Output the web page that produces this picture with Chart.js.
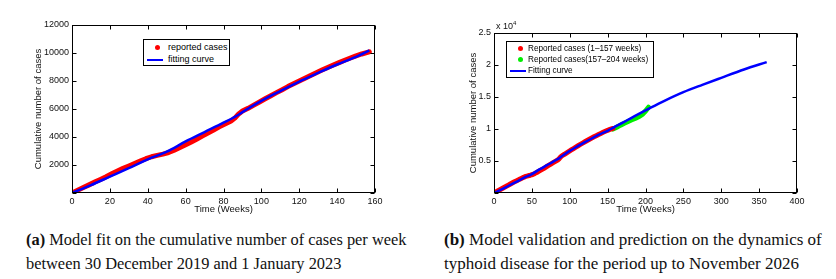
<!DOCTYPE html>
<html><head><meta charset="utf-8">
<script src="https://cdn.jsdelivr.net/npm/chart.js@4"></script>
<style>
body{margin:0;background:#fff;width:836px;height:279px;position:relative;overflow:hidden;font-family:"Liberation Sans",Arial,sans-serif;}
canvas{position:absolute;top:0;}
.leg{position:absolute;border:1px solid #000;background:#fff;font-size:9px;color:#000;box-sizing:border-box;}
.row{position:absolute;left:0;height:11px;line-height:11px;white-space:nowrap;}
.dot{position:absolute;width:5px;height:5px;border-radius:50%;top:3px;}
.ln{position:absolute;height:2px;top:4.5px;background:#0000ff;}
.cap{position:absolute;font-family:"Liberation Serif","Times New Roman",serif;font-size:16.4px;line-height:24px;color:#111;white-space:nowrap;}
.mult{position:absolute;left:496px;top:20px;font-size:9px;color:#111;}
.mult sup{font-size:6px;vertical-align:4px;}
</style></head><body>
<canvas id="c1" width="420" height="215" style="left:0"></canvas>
<canvas id="c2" width="416" height="215" style="left:420px"></canvas>

<div class="leg" style="left:143px;top:39px;width:87px;height:27px;">
  <div class="row" style="top:2px;"><span class="dot" style="left:11px;background:#ff0000"></span><span style="position:absolute;left:24px">reported cases</span></div>
  <div class="row" style="top:14px;"><span class="ln" style="left:3px;width:16px"></span><span style="position:absolute;left:24px">fitting curve</span></div>
</div>
<div class="leg" style="left:506px;top:41px;width:148px;height:37px;">
  <div class="row" style="top:1px;"><span class="dot" style="left:11px;background:#ff0000"></span><span style="position:absolute;left:21px;font-size:8.2px">Reported cases (1–157 weeks)</span></div>
  <div class="row" style="top:12px;"><span class="dot" style="left:11px;background:#00ee00"></span><span style="position:absolute;left:21px;font-size:8.2px">Reported cases(157–204 weeks)</span></div>
  <div class="row" style="top:23px;"><span class="ln" style="left:3px;width:16px"></span><span style="position:absolute;left:21px;font-size:8.2px">Fitting curve</span></div>
</div>
<div class="mult">x 10<sup>4</sup></div>

<div class="cap" style="left:26px;top:228px;"><b>(a)</b> Model fit on the cumulative number of cases per week<br>between 30 December 2019 and 1 January 2023</div>
<div class="cap" style="left:444px;top:228px;font-size:17px;"><b>(b)</b> Model validation and prediction on the dynamics of<br>typhoid disease for the period up to November 2026</div>

<script>
// ---- data ----
const reportedWeeks = [0,3,6,9,12,15,18,21,24,27,30,33,36,39,42,45,48,51,54,57,60,63,66,69,72,75,78,81,84,86,88,90,93,96,99,102,105,108,111,114,117,120,123,126,129,132,135,138,141,144,147,150,153,157];
const reportedCases = [0,190,390,580,780,970,1160,1370,1570,1760,1930,2100,2280,2450,2590,2690,2780,2890,3060,3250,3450,3650,3860,4080,4300,4520,4740,4950,5150,5350,5650,5850,6050,6280,6500,6730,6950,7170,7380,7600,7800,8000,8200,8400,8590,8780,8960,9140,9310,9480,9640,9800,9930,10080];
const fitWeeksA = [0,10,20,30,40,50,60,70,80,87,90,100,110,120,130,140,150,157];
const fitCasesA = [0,560,1170,1780,2400,2950,3680,4350,5020,5520,5780,6580,7280,7960,8580,9180,9720,10180];
const fitWeeksB = [0,10,20,30,40,50,60,70,80,87,90,100,110,120,130,140,150,157,170,185,204,225,250,275,300,330,360];
const fitCasesB = [0,560,1170,1780,2400,2950,3680,4350,5020,5520,5780,6580,7280,7960,8580,9180,9720,10180,11000,11980,13150,14400,15750,16900,18000,19300,20450];
const validWeeks = [157,162,167,172,177,182,187,192,196,200,204];
const validCases = [9980,10280,10600,10900,11180,11450,11700,12000,12300,12800,13400];
const xTicksA = [0,20,40,60,80,100,120,140,160];
const yTicksA = [2000,4000,6000,8000,10000,12000];
const xTicksB = [0,50,100,150,200,250,300,350,400];
const yTickLabelsB = ['0.5','1','1.5','2','2.5'];

const pts = (xs, ys) => xs.map((x,i)=>({x, y: ys[i]}));

const boxPlugin = {
  id:'box',
  afterDatasetsDraw(chart){
    const {ctx, chartArea:a, scales} = chart;
    ctx.save();
    ctx.strokeStyle='#000'; ctx.lineWidth=1;
    const L=Math.round(a.left)+0.5, R=Math.round(a.right)-0.5, T=Math.round(a.top)+0.5, B=Math.round(a.bottom)-0.5;
    ctx.strokeRect(L,T,R-L,B-T);
    const tl=4;
    ctx.beginPath();
    scales.x.ticks.forEach(t=>{
      const px=Math.round(scales.x.getPixelForValue(t.value))+0.5;
      ctx.moveTo(px,B); ctx.lineTo(px,B-tl);
      ctx.moveTo(px,T); ctx.lineTo(px,T+tl);
    });
    scales.y.ticks.forEach(t=>{
      const py=Math.round(scales.y.getPixelForValue(t.value))+0.5;
      ctx.moveTo(L,py); ctx.lineTo(L+tl,py);
      ctx.moveTo(R,py); ctx.lineTo(R-tl,py);
    });
    ctx.stroke();
    ctx.restore();
  }
};

const tickFont = {family:'"Liberation Sans", Arial, sans-serif', size:9};
const titleFont = {family:'"Liberation Sans", Arial, sans-serif', size:9.5};

function makeChart(id, datasets, xmax, xstep, ymax, ystep, yLabel, pad, yTitlePad){
  return new Chart(document.getElementById(id), {
    type:'scatter',
    data:{datasets},
    plugins:[boxPlugin],
    options:{
      responsive:false, animation:false, devicePixelRatio:1,
      layout:{padding:pad},
      plugins:{legend:{display:false}, tooltip:{enabled:false}},
      scales:{
        x:{type:'linear', min:0, max:xmax,
           afterFit(s){s.height=22;},
           grid:{display:false, drawTicks:false}, border:{display:false},
           ticks:{stepSize:xstep, autoSkip:false, maxRotation:0, padding:3, color:'#111', font:tickFont},
           title:{display:true, text:'Time (Weeks)', color:'#111', font:titleFont, padding:{top:0,bottom:0}}},
        y:{type:'linear', min:0, max:ymax,
           afterFit(s){s.width=50;},
           grid:{display:false, drawTicks:false}, border:{display:false},
           ticks:{stepSize:ystep, autoSkip:false, padding:3, color:'#111', font:tickFont, callback:yLabel},
           title:{display:true, text:'Cumulative number of cases', color:'#111', font:titleFont, padding:{top:yTitlePad,bottom:0}}}
      }
    }
  });
}

const redDs = {label:'reported cases', data:pts(reportedWeeks, reportedCases), showLine:true, borderColor:'#ff0000', backgroundColor:'#ff0000', borderWidth:5, pointRadius:0, borderJoinStyle:'round', borderCapStyle:'round', order:2};

makeChart('c1', [
  redDs,
  {label:'fitting curve', data:pts(fitWeeksA, fitCasesA), showLine:true, borderColor:'#0000ff', borderWidth:2.5, pointRadius:0, cubicInterpolationMode:'monotone', order:1}
], 160, 20, 12000, 2000, v => yTicksA.includes(v) ? String(v) : '', {left:22,right:45,top:25,bottom:0}, 11);

makeChart('c2', [
  Object.assign({}, redDs, {label:'Reported cases (1–157 weeks)', data:pts(reportedWeeks, reportedCases)}),
  {label:'Reported cases(157–204 weeks)', data:pts(validWeeks, validCases), showLine:true, borderColor:'#00ee00', borderWidth:5, pointRadius:0, borderCapStyle:'round', order:2},
  {label:'Fitting curve', data:pts(fitWeeksB, fitCasesB), showLine:true, borderColor:'#0000ff', borderWidth:2.5, pointRadius:0, cubicInterpolationMode:'monotone', order:1}
], 400, 50, 25000, 5000, v => v===0 ? '' : yTickLabelsB[v/5000-1], {left:24,right:39,top:33,bottom:0}, 24);
</script>
</body></html>
